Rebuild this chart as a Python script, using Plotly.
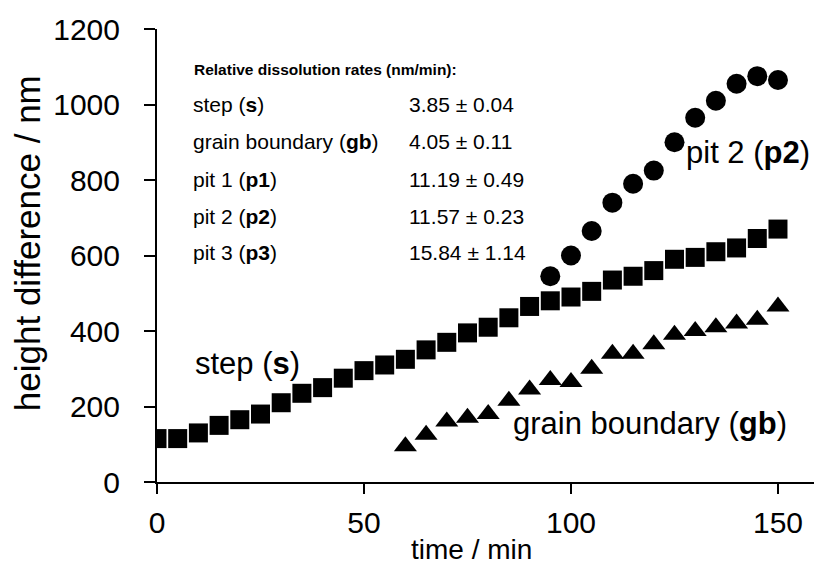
import plotly.graph_objects as go

step_t = [0, 5, 10, 15, 20, 25, 30, 35, 40, 45, 50, 55, 60, 65, 70, 75, 80, 85, 90, 95,
          100, 105, 110, 115, 120, 125, 130, 135, 140, 145, 150]
step_h = [115, 115, 130, 150, 165, 180, 210, 235, 250, 275, 295, 310, 325, 350, 370, 395,
          410, 435, 465, 480, 490, 505, 535, 545, 560, 590, 595, 610, 620, 645, 670]

gb_t = [60, 65, 70, 75, 80, 85, 90, 95, 100, 105, 110, 115, 120, 125, 130, 135, 140, 145, 150]
gb_h = [95, 125, 160, 170, 180, 215, 245, 270, 265, 300, 340, 340, 365, 390, 400, 410, 420, 430, 465]

p2_t = [95, 100, 105, 110, 115, 120, 125, 130, 135, 140, 145, 150]
p2_h = [545, 600, 665, 740, 790, 825, 900, 965, 1010, 1055, 1075, 1065]

rate_names = ["step (s)", "grain boundary (gb)", "pit 1 (p1)", "pit 2 (p2)", "pit 3 (p3)"]
rate_vals = ["3.85 ± 0.04", "4.05 ± 0.11", "11.19 ± 0.49", "11.57 ± 0.23", "15.84 ± 1.14"]

FONT = "Liberation Sans, Arial, sans-serif"

fig = go.Figure()
fig.add_trace(go.Scatter(x=step_t, y=step_h, mode="markers",
                         marker=dict(symbol="square", size=19, color="black"), name="step"))
fig.add_trace(go.Scatter(x=gb_t, y=gb_h, mode="markers",
                         marker=dict(symbol="triangle-up", size=20, color="black"), name="gb"))
fig.add_trace(go.Scatter(x=p2_t, y=p2_h, mode="markers",
                         marker=dict(symbol="circle", size=20, color="black"), name="p2"))

ann = []
ann.append(dict(x=8.5, y=1094, xref="x", yref="y", text="<b>Relative dissolution rates (nm/min):</b>",
                showarrow=False, xanchor="left", yanchor="middle",
                font=dict(size=15.5, family=FONT, color="black")))
row_y = [1000, 902, 801, 703, 607]
for name, val, yy in zip(rate_names, rate_vals, row_y):
    base, abbr = name.split("(")
    abbr = abbr.rstrip(")")
    ann.append(dict(x=8.3, y=yy, xref="x", yref="y", text=f"{base}(<b>{abbr}</b>)",
                    showarrow=False, xanchor="left", yanchor="middle",
                    font=dict(size=21, family=FONT, color="black")))
    ann.append(dict(x=60.5, y=yy, xref="x", yref="y", text=val,
                    showarrow=False, xanchor="left", yanchor="middle",
                    font=dict(size=21, family=FONT, color="black")))

big = dict(size=31, family=FONT, color="black")
ann.append(dict(x=127.2, y=874, xref="x", yref="y", text="pit 2 (<b>p2</b>)", showarrow=False,
                xanchor="left", yanchor="middle", font=big))
ann.append(dict(x=8.6, y=315, xref="x", yref="y", text="step (<b>s</b>)", showarrow=False,
                xanchor="left", yanchor="middle", font=big))
ann.append(dict(x=85.4, y=155, xref="x", yref="y", text="grain boundary (<b>gb</b>)", showarrow=False,
                xanchor="left", yanchor="middle", font=big))

# axis titles
ann.append(dict(x=0.479, y=-0.15, xref="paper", yref="paper", text="time / min", showarrow=False,
                xanchor="center", yanchor="middle", font=dict(size=28, family=FONT, color="black")))
ann.append(dict(x=-0.198, y=0.527, xref="paper", yref="paper", text="height difference / nm",
                showarrow=False, textangle=-90, xanchor="center", yanchor="middle",
                font=dict(size=35, family=FONT, color="black")))

fig.update_layout(
    width=814, height=573,
    margin=dict(l=157, r=0, t=29, b=91),
    paper_bgcolor="white", plot_bgcolor="white",
    showlegend=False,
    annotations=ann,
    font=dict(family=FONT, color="black"),
    xaxis=dict(range=[0, 158.7], tickvals=[0, 50, 100, 150], showgrid=False, zeroline=False,
               showline=True, linecolor="black", linewidth=2, ticks="outside", ticklen=10,
               tickwidth=1.5, tickcolor="black", tickfont=dict(size=30, family=FONT),
               ticklabelstandoff=3),
    yaxis=dict(range=[0, 1200], tickvals=[0, 200, 400, 600, 800, 1000, 1200], showgrid=False,
               zeroline=False, showline=True, linecolor="black", linewidth=2, ticks="outside",
               ticklen=11, tickwidth=1.5, tickcolor="black", tickfont=dict(size=30, family=FONT),
               ticklabelstandoff=18),
)

fig.write_html("out.html")
